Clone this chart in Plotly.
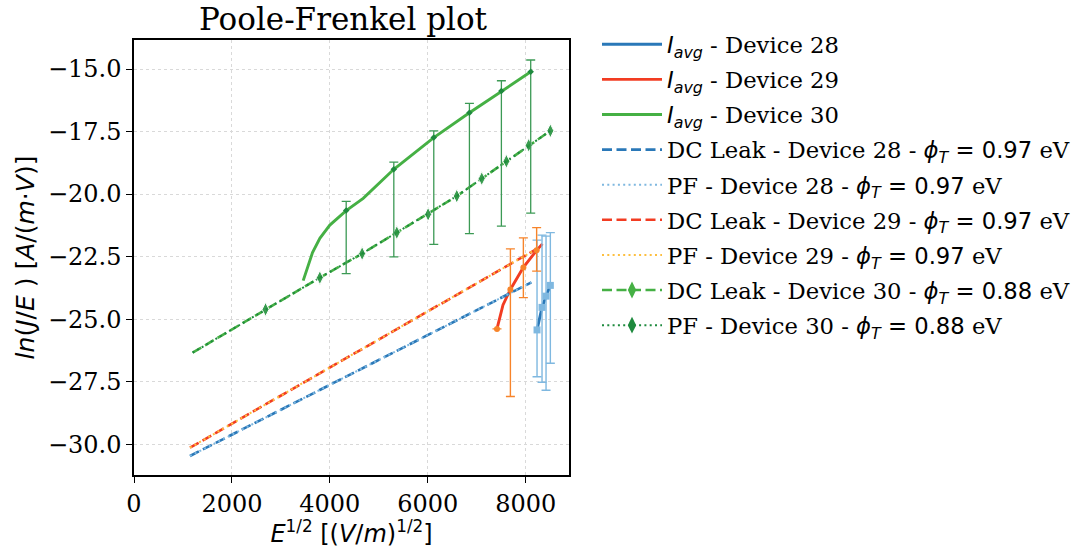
import plotly.graph_objects as go

# ---------------- data ----------------
# DC leak fits (straight lines)
x_dc28 = [1143, 8117]
y_dc28 = [-30.47, -23.53]
x_dc29 = [1143, 8184]
y_dc29 = [-30.14, -22.24]
x_dc30 = [1197, 2687, 3796, 4660, 5368, 6007, 6593, 7103, 7606, 8062, 8504]
y_dc30 = [-26.34, -24.61, -23.34, -22.38, -21.54, -20.81, -20.08, -19.38, -18.69, -18.05, -17.47]

# I_avg curves
x_i28 = [8232, 8334, 8416, 8504]
y_i28 = [-25.43, -24.53, -24.08, -23.65]
e28_plus = [3.59, 2.89, 2.40, 2.11]
e28_minus = [1.87, 2.99, 3.76, 3.11]

x_i29 = [7414, 7469, 7537, 7688, 7953, 8224, 8341]
y_i29 = [-25.39, -24.96, -24.43, -23.81, -22.93, -22.25, -21.99]
x_e29 = [7414, 7688, 7953, 8224]
y_e29 = [-25.39, -23.81, -22.93, -22.25]
e29_plus = [0.0, 1.62, 1.18, 0.91]
e29_minus = [0.0, 4.28, 1.21, 0.83]

x_i30 = [3456, 3646, 3796, 4000, 4334, 4681, 5307, 6123, 6851, 7504, 8103]
y_i30 = [-23.46, -22.34, -21.77, -21.24, -20.66, -20.17, -19.01, -17.74, -16.75, -15.88, -15.11]
x_e30 = [4334, 5307, 6123, 6851, 7504, 8103]
y_e30 = [-20.66, -19.01, -17.74, -16.75, -15.88, -15.11]
e30_plus = [0.37, 0.29, 0.27, 0.38, 0.41, 0.47]
e30_minus = [2.52, 3.50, 4.27, 4.83, 5.40, 5.65]

x_ticks = [0, 2000, 4000, 6000, 8000]
y_ticks = [-15.0, -17.5, -20.0, -22.5, -25.0, -27.5, -30.0]

# ---------------- styles ----------------
BLUE = "#2a78b8"
LBLUE = "#7fb8e0"
RED = "#f23c22"
ORANGE = "#f7842a"
YELLOW = "#fdbf3f"
GREEN = "#45b044"
DGREEN = "#1e8a3e"
EGREEN = "#3c9a55"

SERIF = "DejaVu Serif"
SANS = "DejaVu Sans"

DASH = "10px,4.5px"
DOT = "2px,3.3px"
W_SOLID = 2.9
W_DASH = 2.6
W_DOT = 2.0


def sans(t):
    return f'<span style="font-family:{SANS}">{t}</span>'


def iavg(dev):
    return sans("<i>I<sub>avg</sub></i>") + f" - Device {dev}"


def phi(val):
    return sans("<i>ϕ<sub>T</sub></i> = " + val) + " eV"


fig = go.Figure()

# ---- data traces (no legend) ----
fig.add_trace(go.Scatter(x=x_i28, y=y_i28, mode="lines", showlegend=False,
                         line=dict(color=BLUE, width=W_SOLID)))
fig.add_trace(go.Scatter(x=x_i29, y=y_i29, mode="lines", showlegend=False,
                         line=dict(color=RED, width=W_SOLID)))
fig.add_trace(go.Scatter(x=x_i30, y=y_i30, mode="lines", showlegend=False,
                         line=dict(color=GREEN, width=W_SOLID)))
fig.add_trace(go.Scatter(x=x_dc28, y=y_dc28, mode="lines", showlegend=False,
                         line=dict(color=BLUE, width=W_DASH, dash=DASH)))
fig.add_trace(go.Scatter(x=x_dc28, y=y_dc28, mode="lines", showlegend=False,
                         line=dict(color=LBLUE, width=W_DOT, dash=DOT)))
fig.add_trace(go.Scatter(x=x_dc29, y=y_dc29, mode="lines", showlegend=False,
                         line=dict(color=RED, width=W_DASH, dash=DASH)))
fig.add_trace(go.Scatter(x=x_dc29, y=y_dc29, mode="lines", showlegend=False,
                         line=dict(color=YELLOW, width=W_DOT, dash=DOT)))
msize30 = [0] + [10] * (len(x_dc30) - 1)
fig.add_trace(go.Scatter(x=x_dc30, y=y_dc30, mode="lines+markers", showlegend=False,
                         line=dict(color=GREEN, width=W_DASH, dash=DASH),
                         marker=dict(symbol="diamond-tall", size=msize30, color=GREEN)))
fig.add_trace(go.Scatter(x=x_dc30, y=y_dc30, mode="lines+markers", showlegend=False,
                         line=dict(color=DGREEN, width=W_DOT, dash=DOT),
                         marker=dict(symbol="diamond-tall", size=msize30, color=DGREEN)))

# error bars + markers for I_avg
fig.add_trace(go.Scatter(x=x_i28, y=y_i28, mode="markers", showlegend=False,
                         marker=dict(symbol="square", size=7, color=LBLUE),
                         error_y=dict(type="data", symmetric=False, array=e28_plus,
                                      arrayminus=e28_minus, color=LBLUE,
                                      thickness=1.4, width=4.5)))
fig.add_trace(go.Scatter(x=x_e29, y=y_e29, mode="markers", showlegend=False,
                         marker=dict(symbol="circle", size=6, color=ORANGE),
                         error_y=dict(type="data", symmetric=False, array=e29_plus,
                                      arrayminus=e29_minus, color=ORANGE,
                                      thickness=1.4, width=4.5)))
fig.add_trace(go.Scatter(x=x_e30, y=y_e30, mode="markers", showlegend=False,
                         marker=dict(symbol="diamond", size=5, color=DGREEN),
                         error_y=dict(type="data", symmetric=False, array=e30_plus,
                                      arrayminus=e30_minus, color=EGREEN,
                                      thickness=1.3, width=4.5)))

# ---- legend entries ----
legend_items = [
    (iavg(28), dict(color=BLUE, width=W_SOLID), None),
    (iavg(29), dict(color=RED, width=W_SOLID), None),
    (iavg(30), dict(color=GREEN, width=W_SOLID), None),
    ("DC Leak - Device 28 - " + phi("0.97"), dict(color=BLUE, width=W_DASH, dash=DASH), None),
    ("PF - Device 28 - " + phi("0.97"), dict(color=LBLUE, width=W_DOT, dash=DOT), None),
    ("DC Leak - Device 29 - " + phi("0.97"), dict(color=RED, width=W_DASH, dash=DASH), None),
    ("PF - Device 29 - " + phi("0.97"), dict(color=YELLOW, width=W_DOT, dash=DOT), None),
    ("DC Leak - Device 30 - " + phi("0.88"), dict(color=GREEN, width=W_DASH, dash=DASH), GREEN),
    ("PF - Device 30 - " + phi("0.88"), dict(color=DGREEN, width=W_DOT, dash=DOT), DGREEN),
]
for i, (name, line, mcol) in enumerate(legend_items):
    fig.add_trace(go.Scatter(
        x=[None], y=[None], name=name, legendgroup=f"g{i}",
        mode="lines+markers" if mcol else "lines", line=line,
        marker=dict(symbol="diamond-tall", size=12, color=mcol) if mcol else None,
    ))

axis_common = dict(
    showline=True, linecolor="black", linewidth=1.5, mirror=True,
    ticks="outside", ticklen=6, tickwidth=1.3, tickcolor="black",
    showgrid=True, gridcolor="#d9d9d9", gridwidth=0.8, griddash="dot",
    zeroline=False,
    tickfont=dict(family=SERIF, size=24, color="black"),
)

fig.update_layout(
    width=1078, height=548,
    margin=dict(l=134, r=509, t=40, b=73, autoexpand=False),
    plot_bgcolor="white", paper_bgcolor="white",
    title=dict(text="Poole-Frenkel plot", x=343 / 1078, xanchor="center",
               y=1 - 19 / 548, yanchor="middle",
               font=dict(family=SERIF, size=31, color="black")),
    xaxis=dict(range=[0, 8885], tickvals=x_ticks,
               ticktext=[str(v) for v in x_ticks],
               title=dict(text="<i>E</i><sup>1/2</sup> [(<i>V</i>/<i>m</i>)<sup>1/2</sup>]",
                          font=dict(family=SANS, size=24, color="black"), standoff=2),
               **axis_common),
    yaxis=dict(range=[-31.23, -13.84], tickvals=y_ticks,
               ticktext=[f"−{abs(v):.1f}" for v in y_ticks],
               title=dict(text="<i>ln</i>(<i>J</i>/<i>E</i> ) [<i>A</i>/(<i>m</i>·<i>V</i>)]",
                          font=dict(family=SANS, size=25, color="black"), standoff=6),
               **axis_common),
    legend=dict(xref="container", yref="container",
                x=597 / 1078, y=1 - 23 / 548, xanchor="left", yanchor="top",
                font=dict(family=SERIF, size=22.7, color="black"),
                tracegroupgap=2.6, itemwidth=60, maxheight=540,
                bgcolor="rgba(0,0,0,0)"),
)

fig.write_html("out.html")
